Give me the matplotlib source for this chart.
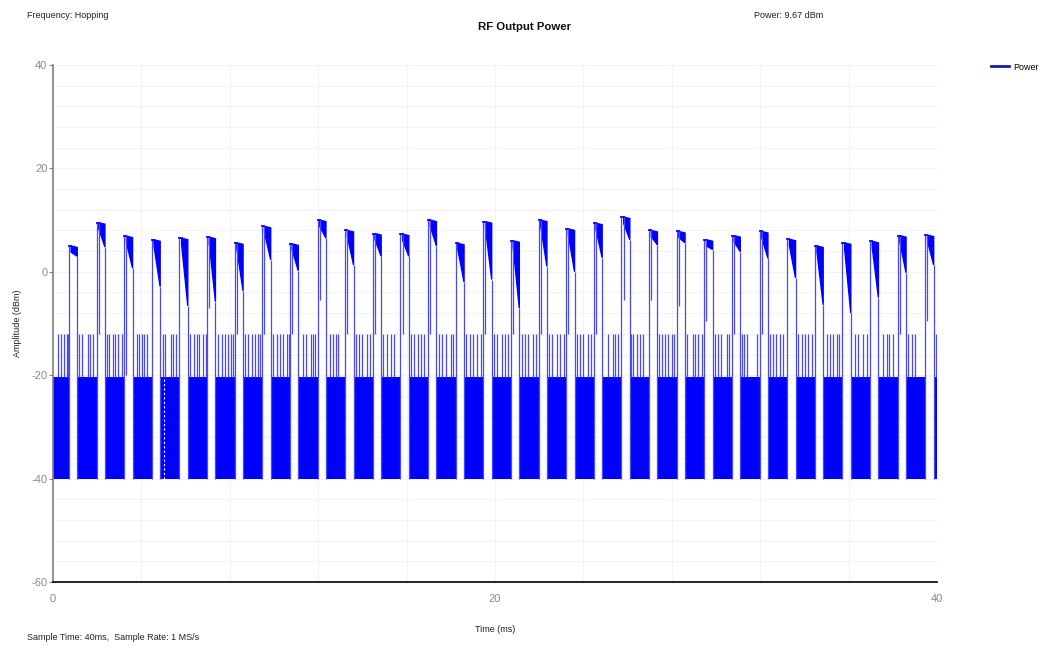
import matplotlib
matplotlib.use('Agg')
import matplotlib.pyplot as plt
import numpy as np

plt.rcParams['font.family'] = ['Liberation Sans', 'DejaVu Sans']
plt.rcParams['axes.unicode_minus'] = False

# Burst timing (ms): start of each RF burst
burst_start = [0.72, 1.97, 3.22, 4.47, 5.72, 6.97, 8.22, 9.47, 10.72, 11.97,
               13.22, 14.47, 15.72, 16.97, 18.22, 19.47, 20.72, 21.97, 23.22, 24.47,
               25.72, 26.97, 28.22, 29.47, 30.72, 31.97, 33.22, 34.47, 35.72, 36.97,
               38.22, 39.47]
burst_len = 0.38

# Burst top level and level reached at end of the burst (dBm)
burst_top = [5.0, 9.5, 6.9, 6.2, 6.5, 6.7, 5.6, 8.8, 5.4, 10.0,
             8.0, 7.4, 7.3, 10.0, 5.5, 9.7, 6.0, 10.0, 8.3, 9.4,
             10.6, 8.0, 7.8, 6.2, 7.0, 7.8, 6.3, 5.0, 5.6, 5.9,
             7.0, 7.1]
burst_end = [3.0, 4.8, 0.7, -2.9, -6.6, -5.8, -3.7, 2.3, 0.2, 6.5,
             1.3, 3.0, 3.0, 5.0, -2.0, -1.5, -7.0, 1.0, 0.0, 2.7,
             6.2, 5.2, 5.6, 4.3, 3.9, 2.6, -1.2, -6.4, -8.0, -5.0,
             -0.2, 1.3]
# thin dip near the start of a burst (nan = not visible)
burst_dip = [np.nan, -12, -20, np.nan, np.nan, -7, -12, -12, -12, -5.4,
             -12, -12, -12, -12, np.nan, -12, -12, -12, -12, -12,
             -5.4, -5.4, -6.6, -9.6, -12, -12, np.nan, np.nan, np.nan, np.nan,
             -12, -9.6]

# Noise floor between bursts
noise_low = -40.0
noise_high = -20.4
spike_level = -12.0
spike_times = [0.23, 0.36, 0.50, 0.63, 0.68,
               1.18, 1.31, 1.58, 1.67, 1.81,
               2.44, 2.53, 2.71, 2.81, 2.94, 3.12,
               3.80, 3.89, 4.03, 4.12, 4.25,
               4.98, 5.07, 5.34, 5.43, 5.57,
               6.20, 6.38, 6.52, 6.61, 6.79, 6.92,
               7.47, 7.65, 7.78, 7.92, 8.05, 8.14,
               8.69, 8.82, 9.00, 9.14, 9.28, 9.37,
               9.95, 10.14, 10.27, 10.41, 10.59, 10.68,
               11.31, 11.45, 11.67, 11.76, 11.86,
               12.53, 12.67, 12.81, 12.90,
               13.70, 13.85, 14.00, 14.20, 14.35,
               14.95, 15.10, 15.30, 15.45,
               16.20, 16.35, 16.50, 16.65, 16.80,
               17.45, 17.60, 17.80, 18.00, 18.10,
               18.70, 18.85, 19.00, 19.20, 19.35,
               19.95, 20.10, 20.30, 20.45, 20.60,
               21.20, 21.35, 21.50, 21.70, 21.85,
               22.45, 22.60, 22.80, 22.95, 23.10,
               23.70, 23.85, 24.00, 24.20, 24.35,
               25.11, 25.34, 25.43, 25.57,
               26.15, 26.24, 26.43, 26.56, 26.70,
               27.42, 27.56, 27.69, 27.83, 28.01, 28.10,
               28.69, 28.96, 29.05, 29.19, 29.37,
               29.95, 30.09, 30.23, 30.50, 30.59,
               31.18, 31.27, 31.40, 31.86,
               32.44, 32.58, 32.71, 32.90, 33.03,
               33.71, 33.89, 34.03, 34.16, 34.34,
               35.02, 35.16, 35.29, 35.48, 35.57,
               36.29, 36.43, 36.65, 36.83,
               37.56, 37.74, 37.83, 38.01,
               38.69, 38.87, 39.00,
               39.95]
gap_marker = 5.02  # white dashed gap inside the noise

blue = '#0000ff'
thin = '#4a4af5'
txt = 6.5

fig = plt.figure(figsize=(10.41, 6.49), dpi=100)
ax = fig.add_axes([53 / 1041, 1 - 582 / 649, 884 / 1041, 517 / 649])

# noise blocks between bursts
block_edges = [0.0] + [s + burst_len for s in burst_start]
block_ends = burst_start + [40.0]
for a, b in zip(block_edges, block_ends):
    ax.fill_between([a, b], noise_low, noise_high, color=blue, lw=0)
ax.vlines(spike_times, noise_high, spike_level, color=thin, lw=0.9)
ax.vlines([gap_marker], noise_low, noise_high, color='white', lw=0.8, linestyles=(0, (2, 2)))

# bursts
for s, top, end, dip in zip(burst_start, burst_top, burst_end, burst_dip):
    e = s + burst_len
    ax.vlines([s], noise_low, top, color=thin, lw=0.9)
    ax.vlines([e], noise_low, end, color=thin, lw=0.9)
    ax.plot([s, s + 0.1], [top, top], color=blue, lw=1.3)
    ax.fill([s + 0.1, e, e, s + 0.1], [top, top - 0.3, end, top - 1.2], color=blue, lw=1.0)
    if not np.isnan(dip):
        ax.vlines([s + 0.1], dip, top, color=thin, lw=0.9)

ax.plot([], [], color='#1a1aa8', lw=2, label='Power')

ax.set_xlim(0, 40)
ax.set_ylim(-60, 40)
ax.set_xticks([0, 20, 40])
ax.set_yticks([-60, -40, -20, 0, 20, 40])
ax.set_xticks(np.arange(0, 41, 4), minor=True)
ax.set_yticks(np.arange(-60, 41, 4), minor=True)
ax.grid(True, which='both', color='#f3f3f3', lw=0.8)
ax.set_axisbelow(True)
ax.tick_params(axis='both', which='minor', length=0)
ax.tick_params(axis='x', which='major', length=0, pad=9, labelsize=8, labelcolor='#8a8a8a')
ax.tick_params(axis='y', which='major', length=3, width=0.8, color='#808080',
               pad=1, labelsize=8, labelcolor='#8a8a8a')
for side in ['top', 'right']:
    ax.spines[side].set_visible(False)
ax.spines['left'].set_color('#808080')
ax.spines['left'].set_linewidth(1.2)
ax.spines['bottom'].set_color('black')
ax.spines['bottom'].set_linewidth(1.2)

ax.set_xlabel('Time (ms)', fontsize=txt, color='#222222', labelpad=15)
ax.set_ylabel('Amplitude (dBm)', fontsize=txt, color='#222222', labelpad=7)

fig.text(525 / 1041, 1 - 27 / 649, 'RF Output Power', ha='center', va='center',
         fontsize=8.2, fontweight='bold', color='#111111')
fig.text(27 / 1041, 1 - 15 / 649, 'Frequency: Hopping', ha='left', va='center',
         fontsize=txt, color='#222222')
fig.text(754 / 1041, 1 - 15 / 649, 'Power: 9.67 dBm', ha='left', va='center',
         fontsize=txt, color='#222222')
fig.text(27 / 1041, 1 - 638 / 649, 'Sample Time: 40ms,  Sample Rate: 1 MS/s', ha='left',
         va='center', fontsize=txt, color='#222222')

fig.legend(loc='upper left', bbox_to_anchor=(986 / 1041, 1 - 58 / 649), frameon=False,
           handlelength=2.0, handletextpad=0.5, borderpad=0, fontsize=txt)

fig.savefig('out.png', dpi=100)
